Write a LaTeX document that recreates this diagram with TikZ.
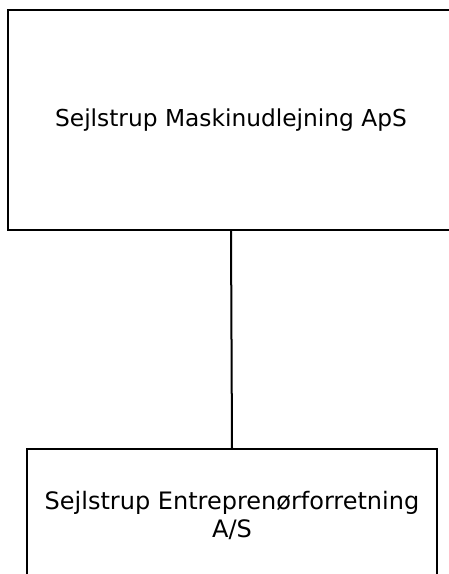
\documentclass[tikz,border=0pt]{standalone}
\usepackage{fontspec}
\setmainfont{DejaVu Sans}
\begin{document}
\begin{tikzpicture}[x=1pt,y=-1pt,
  orgbox/.style={draw=black, line width=2pt, rectangle, align=center, inner sep=0pt},
  link/.style={draw=black, line width=2pt}]
\useasboundingbox (0,0) rectangle (449,574);
\clip (0,0) rectangle (449,574);
\fill[white] (0,0) rectangle (449,574);
\node[orgbox, minimum width=446pt, minimum height=220pt, font=\fontsize{23.3}{28}\selectfont] (top) at (231,120) {Sejlstrup Maskinudlejning ApS};
\node[orgbox, minimum width=410pt, minimum height=132pt, font=\fontsize{24}{28}\selectfont] (bot) at (232,515) {Sejlstrup Entreprenørforretning\\A/S};
\draw[link] (top.south) -- (bot.north);
\end{tikzpicture}
\end{document}
